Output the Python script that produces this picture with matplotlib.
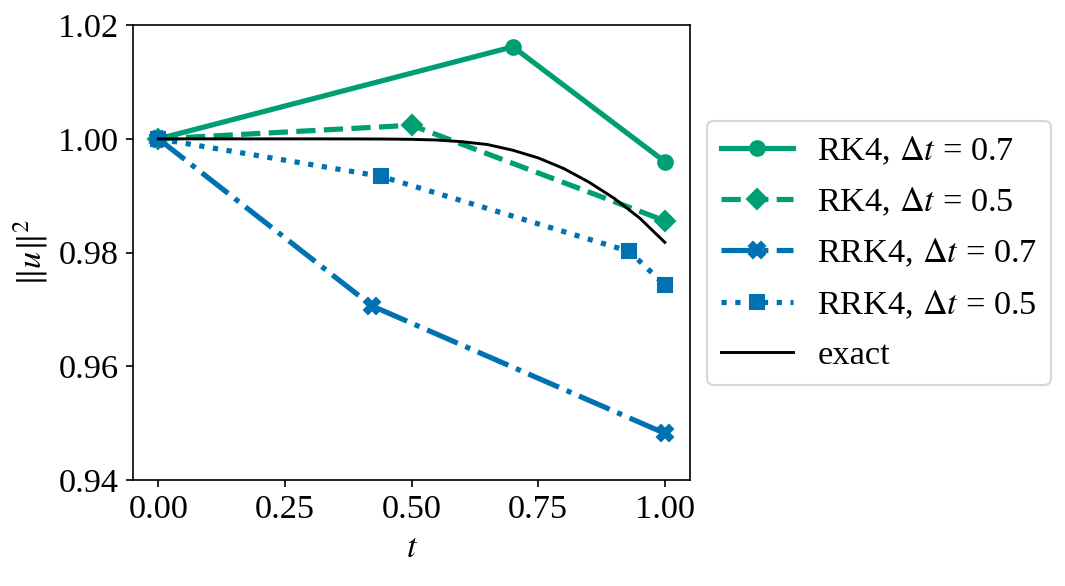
import matplotlib
matplotlib.use("Agg")
import matplotlib.pyplot as plt

# values
t_rk4_07 = [0.0, 0.7, 1.0]
u_rk4_07 = [1.0, 1.0162, 0.9960]

t_rk4_05 = [0.0, 0.5, 1.0]
u_rk4_05 = [1.0, 1.0024, 0.9856]

t_rrk4_07 = [0.0, 0.422, 1.0]
u_rrk4_07 = [1.0, 0.9706, 0.9482]

t_rrk4_05 = [0.0, 0.44, 0.93, 1.0]
u_rrk4_05 = [1.0, 0.9934, 0.9802, 0.9743]

t_exact = [0.0, 0.1, 0.2, 0.3, 0.4, 0.45, 0.5, 0.55, 0.6, 0.65, 0.7, 0.75, 0.8, 0.85, 0.9, 0.95, 1.0]
u_exact = [1.0, 1.0, 1.0, 1.0, 0.99999, 0.99997, 0.99992, 0.99980, 0.99950, 0.99900,
           0.99800, 0.99665, 0.99480, 0.99240, 0.98955, 0.98610, 0.98180]

labels = [r"RK4, $\Delta t$ = 0.7", r"RK4, $\Delta t$ = 0.5",
          r"RRK4, $\Delta t$ = 0.7", r"RRK4, $\Delta t$ = 0.5", "exact"]

green = "#009E73"
blue = "#0072B2"

plt.rcParams["font.family"] = ["Liberation Serif", "DejaVu Serif"]
plt.rcParams["mathtext.fontset"] = "stix"
plt.rcParams["font.size"] = 16.5

fig = plt.figure(figsize=(7.1, 3.9067), dpi=150)
ax = fig.add_axes([0.125, 0.181, 0.523, 0.776])

ax.plot(t_rk4_07, u_rk4_07, "-", color=green, marker="o", lw=2.5, ms=7, label=labels[0])
ax.plot(t_rk4_05, u_rk4_05, "--", color=green, marker="D", lw=2.5, ms=7, label=labels[1])
ax.plot(t_rrk4_07, u_rrk4_07, "-.", color=blue, marker="X", lw=2.5, ms=7.5, label=labels[2])
ax.plot(t_rrk4_05, u_rrk4_05, ":", color=blue, marker="s", lw=2.5, ms=7, label=labels[3])
ax.plot(t_exact, u_exact, "-", color="black", lw=1.4, label=labels[4])

ax.set_ylim(0.94, 1.02)
ax.set_yticks([0.94, 0.96, 0.98, 1.00, 1.02])
ax.set_xticks([0.0, 0.25, 0.5, 0.75, 1.0])
ax.xaxis.set_major_formatter(matplotlib.ticker.FormatStrFormatter("%.2f"))
ax.yaxis.set_major_formatter(matplotlib.ticker.FormatStrFormatter("%.2f"))
ax.set_xlabel(r"$t$")
ax.set_ylabel(r"$\|u\|^2$")

ax.legend(loc="center left", bbox_to_anchor=(1.0, 0.5), borderaxespad=0.5,
          fontsize=16.5, handlelength=2.1, handletextpad=0.7, labelspacing=0.55)

fig.savefig("out.png", dpi=150)
